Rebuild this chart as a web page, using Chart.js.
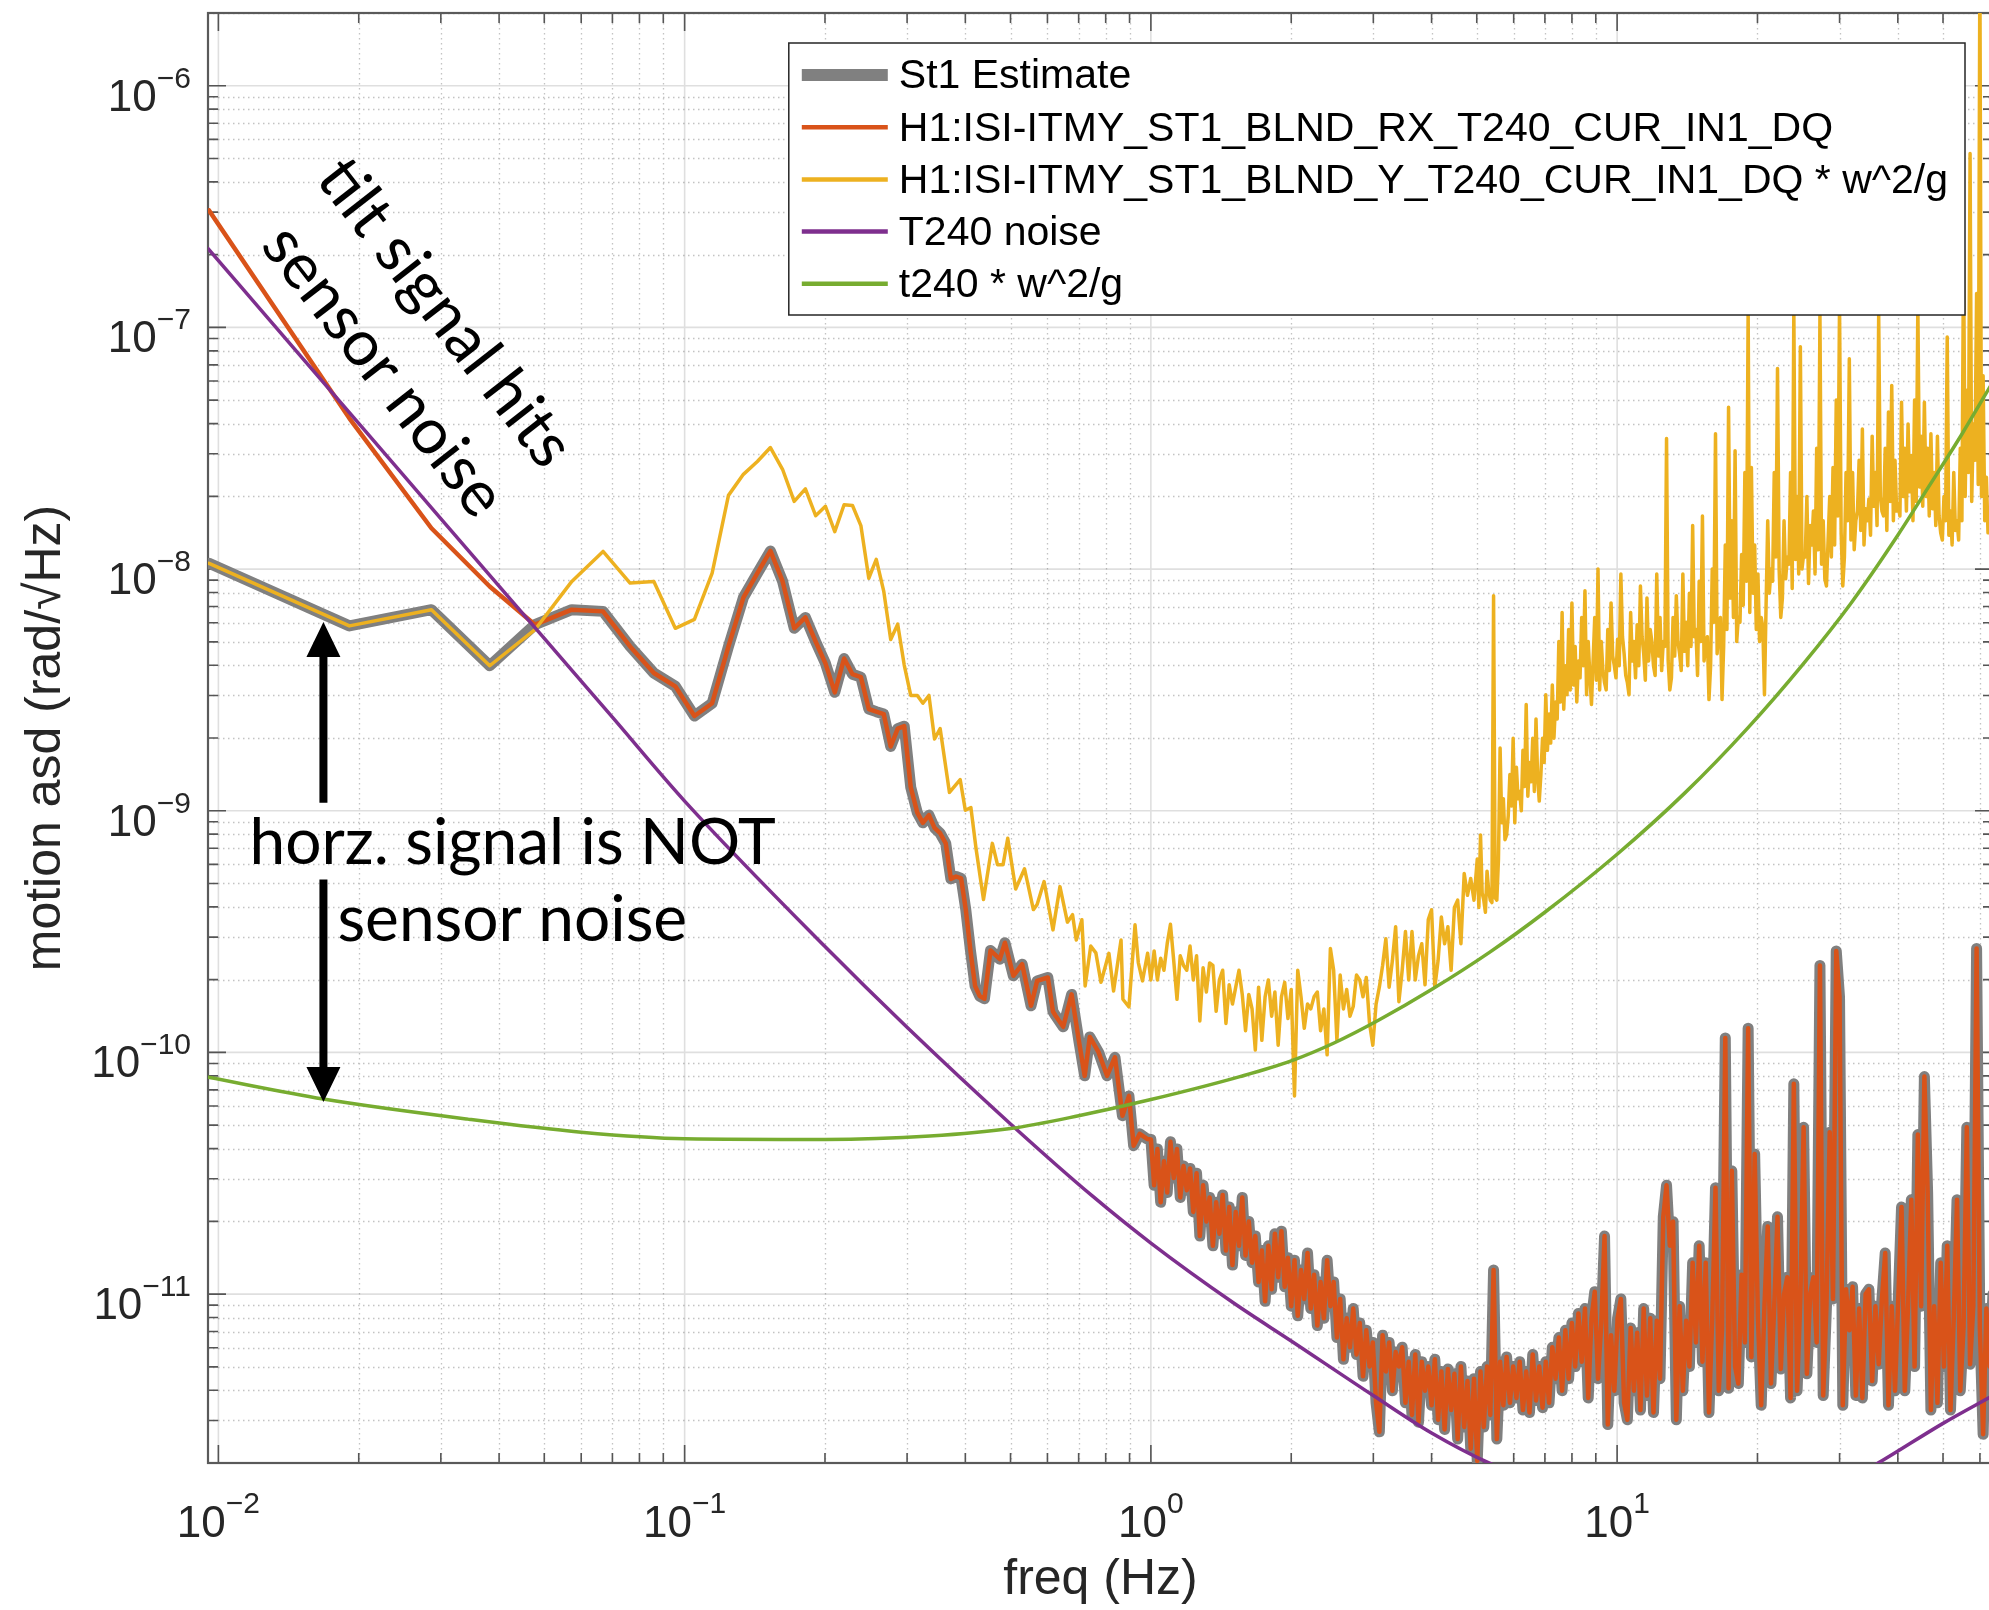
<!DOCTYPE html>
<html>
<head>
<meta charset="utf-8">
<title>St1 tilt estimate</title>
<script src="https://cdn.jsdelivr.net/npm/chart.js@4.4.1/dist/chart.umd.min.js"></script>
<style>
  html, body { margin: 0; padding: 0; background: #fff; }
  #wrap { width: 1989px; height: 1610px; overflow: hidden; }
  canvas { display: block; }
</style>
</head>
<body>
<div id="wrap"><canvas id="asd" width="2000" height="1610"></canvas></div>
<script>
// All readings are stored as log10 values (decades).

// H1:ISI-ITMY_ST1_BLND_RX_T240_CUR_IN1_DQ, below 1 Hz
const rxFreqExp = [
  -2.020, -1.719, -1.543, -1.418, -1.321, -1.242, -1.175, -1.117, -1.066, -1.020,
  -0.979, -0.941, -0.906, -0.874, -0.844, -0.816, -0.790, -0.765, -0.741, -0.719,
  -0.698, -0.678, -0.658, -0.640, -0.622, -0.605, -0.589, -0.573, -0.558, -0.543,
  -0.529, -0.515, -0.501, -0.489, -0.476, -0.464, -0.452, -0.440, -0.429, -0.418,
  -0.407, -0.397, -0.387, -0.377, -0.367, -0.357,
  -0.344, -0.324, -0.313, -0.295, -0.276, -0.257, -0.244, -0.221, -0.210, -0.204,
  -0.188, -0.170, -0.154, -0.142, -0.131, -0.112, -0.094, -0.077, -0.061, -0.047,
  -0.037, -0.024, -0.008
];
const rxAsdExp = [
  -6.516, -7.376, -7.831, -8.072, -8.230, -8.168, -8.175, -8.320, -8.430, -8.485,
  -8.608, -8.555, -8.320, -8.118, -8.017, -7.925, -8.050, -8.245, -8.200, -8.300,
  -8.390, -8.510, -8.370, -8.435, -8.447, -8.579, -8.590, -8.600, -8.734, -8.660,
  -8.650, -8.903, -9.008, -9.050, -9.018, -9.071, -9.093, -9.135, -9.282, -9.272,
  -9.280, -9.409, -9.578, -9.725, -9.767, -9.778,
  -9.578, -9.614, -9.546, -9.683, -9.635, -9.807, -9.704, -9.690, -9.831, -9.849,
  -9.894, -9.760, -9.957, -10.097, -9.936, -10.000, -10.097, -10.020, -10.262, -10.180,
  -10.386, -10.337, -10.358
];

// H1:ISI-ITMY_ST1_BLND_Y_T240_CUR_IN1_DQ * w^2/g, below 1 Hz
const yFreqExp = [
  -2.020, -1.719, -1.543, -1.418, -1.321, -1.242, -1.175, -1.117, -1.066, -1.020,
  -0.979, -0.941, -0.906, -0.874, -0.844, -0.816, -0.790, -0.765, -0.741, -0.719,
  -0.698, -0.678, -0.658, -0.640, -0.622, -0.605, -0.589, -0.573, -0.558, -0.543,
  -0.529, -0.515, -0.501, -0.489, -0.476, -0.464, -0.452,
  -0.432, -0.409, -0.398, -0.386, -0.375, -0.359, -0.340, -0.329, -0.317, -0.307,
  -0.290, -0.271, -0.252, -0.244, -0.229, -0.210, -0.195, -0.179, -0.168, -0.160,
  -0.148, -0.141, -0.129, -0.118, -0.107, -0.090, -0.080, -0.064, -0.060, -0.047,
  -0.034, -0.027, -0.018, -0.007
];
const yAsdExp = [
  -7.976, -8.235, -8.168, -8.400, -8.251, -8.051, -7.927, -8.058, -8.051, -8.245,
  -8.208, -8.017, -7.695, -7.608, -7.555, -7.497, -7.587, -7.720, -7.668, -7.779,
  -7.740, -7.845, -7.734, -7.737, -7.820, -8.038, -7.960, -8.091, -8.291, -8.228,
  -8.397, -8.523, -8.523, -8.555, -8.523, -8.703, -8.660,
  -8.924, -8.871, -8.998, -8.987, -9.156, -9.367, -9.135, -9.223, -9.223, -9.114,
  -9.324, -9.240, -9.409, -9.388, -9.293, -9.493, -9.314, -9.461, -9.430, -9.535,
  -9.451, -9.725, -9.560, -9.588, -9.710, -9.590, -9.746, -9.535, -9.780, -9.812,
  -9.472, -9.628, -9.704, -9.590
];

// 1 Hz and up: frequency grid shared by RX (whole grid) and Y (up to 5 Hz)
const hfFreqExp = [
  0.000, 0.007, 0.014, 0.021, 0.028, 0.035, 0.042, 0.049, 0.056, 0.063,
  0.070, 0.077, 0.084, 0.091, 0.098, 0.105, 0.112, 0.119, 0.126, 0.133,
  0.140, 0.147, 0.154, 0.161, 0.168, 0.175, 0.182, 0.189, 0.196, 0.203,
  0.210, 0.217, 0.224, 0.231, 0.238, 0.245, 0.252, 0.259, 0.266, 0.273,
  0.280, 0.287, 0.294, 0.301, 0.308, 0.315, 0.322, 0.329, 0.336, 0.343,
  0.350, 0.357, 0.364, 0.371, 0.378, 0.385, 0.392, 0.399, 0.406, 0.413,
  0.420, 0.427, 0.434, 0.441, 0.448, 0.455, 0.462, 0.469, 0.476, 0.483,
  0.490, 0.497, 0.504, 0.511, 0.518, 0.525, 0.532, 0.539, 0.546, 0.553,
  0.560, 0.567, 0.574, 0.581, 0.588, 0.595, 0.602, 0.609, 0.616, 0.623,
  0.630, 0.637, 0.644, 0.651, 0.658, 0.665, 0.672, 0.679, 0.686, 0.693,
  0.700, 0.707, 0.714, 0.721, 0.728, 0.735, 0.742, 0.749, 0.756, 0.763,
  0.770, 0.777, 0.784, 0.791, 0.798, 0.805, 0.812, 0.819, 0.826, 0.833,
  0.840, 0.847, 0.854, 0.861, 0.868, 0.875, 0.882, 0.889, 0.896, 0.903,
  0.910, 0.917, 0.924, 0.931, 0.938, 0.945, 0.952, 0.959, 0.966, 0.973,
  0.980, 0.987, 0.994, 1.001, 1.008, 1.015, 1.022, 1.029, 1.036, 1.043,
  1.050, 1.057, 1.064, 1.071, 1.078, 1.085, 1.092, 1.099, 1.106, 1.113,
  1.120, 1.127, 1.134, 1.141, 1.148, 1.155, 1.162, 1.169, 1.176, 1.183,
  1.190, 1.197, 1.204, 1.211, 1.218, 1.225, 1.232, 1.239, 1.246, 1.253,
  1.260, 1.267, 1.274, 1.281, 1.288, 1.295, 1.302, 1.309, 1.316, 1.323,
  1.330, 1.337, 1.344, 1.351, 1.358, 1.365, 1.372, 1.379, 1.386, 1.393,
  1.400, 1.407, 1.414, 1.421, 1.428, 1.435, 1.442, 1.449, 1.456, 1.463,
  1.470, 1.477, 1.484, 1.491, 1.498, 1.505, 1.512, 1.519, 1.526, 1.533,
  1.540, 1.547, 1.554, 1.561, 1.568, 1.575, 1.582, 1.589, 1.596, 1.603,
  1.610, 1.617, 1.624, 1.631, 1.638, 1.645, 1.652, 1.659, 1.666, 1.673,
  1.680, 1.687, 1.694, 1.701, 1.708, 1.715, 1.722, 1.729, 1.736, 1.743,
  1.750, 1.757, 1.764, 1.771, 1.778, 1.785, 1.792, 1.799, 1.806, 1.813
];
const rxHfAsdExp = [
  -10.36, -10.55, -10.40, -10.62, -10.45, -10.58, -10.37, -10.52, -10.40, -10.60,
  -10.47, -10.57, -10.48, -10.66, -10.50, -10.76, -10.55, -10.70, -10.60, -10.80,
  -10.62, -10.75, -10.59, -10.82, -10.64, -10.88, -10.66, -10.80, -10.60, -10.84,
  -10.70, -10.87, -10.76, -10.95, -10.82, -11.03, -10.80, -10.98, -10.75, -10.93,
  -10.74, -10.97, -10.85, -11.05, -10.86, -11.09, -10.90, -11.02, -10.83, -11.06,
  -10.92, -11.13, -10.95, -11.10, -10.86, -11.05, -10.95, -11.18, -11.02, -11.27,
  -11.10, -11.22, -11.06, -11.25, -11.12, -11.34, -11.15, -11.30, -11.20, -11.45,
  -11.57, -11.17, -11.32, -11.20, -11.40, -11.24, -11.30, -11.22, -11.45, -11.28,
  -11.50, -11.25, -11.53, -11.28, -11.40, -11.30, -11.46, -11.27, -11.52, -11.32,
  -11.56, -11.31, -11.48, -11.33, -11.60, -11.30, -11.55, -11.36, -11.64, -11.35,
  -11.69, -11.32, -11.55, -11.30, -11.50, -10.90, -11.60, -11.28, -11.46, -11.26,
  -11.45, -11.30, -11.43, -11.28, -11.48, -11.32, -11.49, -11.25, -11.44, -11.30,
  -11.47, -11.28, -11.45, -11.22, -11.35, -11.18, -11.40, -11.15, -11.35, -11.12,
  -11.30, -11.08, -11.28, -11.06, -11.43, -11.10, -10.99, -11.35, -11.12, -10.76,
  -11.54, -11.17, -11.40, -11.10, -11.02, -11.45, -11.52, -11.14, -11.40, -11.16,
  -11.48, -11.06, -11.42, -11.10, -11.49, -11.11, -11.35, -10.68, -10.55, -10.80,
  -10.70, -11.52, -11.05, -11.40, -11.11, -11.30, -10.87, -11.20, -10.80, -11.28,
  -10.87, -11.49, -11.10, -10.56, -11.40, -11.15, -9.94, -11.39, -10.49, -11.30,
  -11.37, -10.92, -11.20, -9.90, -11.26, -10.42, -11.10, -11.46, -11.05, -10.72,
  -11.37, -11.05, -10.68, -11.31, -11.00, -10.93, -11.43, -10.13, -11.40, -11.02,
  -10.31, -11.33, -11.00, -10.93, -11.20, -9.64, -11.42, -11.05, -10.33, -11.02,
  -9.58, -9.77, -11.46, -10.98, -11.15, -10.97, -11.42, -11.06, -11.43, -11.00,
  -10.98, -11.36, -11.05, -11.29, -11.02, -10.83, -11.46, -11.05, -11.40, -11.02,
  -10.64, -11.40, -11.05, -10.61, -11.30, -10.34, -11.05, -10.10, -10.58, -11.48,
  -11.05, -11.45, -10.87, -11.30, -10.80, -11.48, -11.10, -10.61, -11.40, -11.14,
  -10.31, -11.29, -11.05, -9.57, -11.14, -11.58, -11.06, -11.30, -11.00, -11.20
];
// Y channel on the shared grid, 1 Hz to 5 Hz
const yHfAsdExp = [
  -9.70, -9.58, -9.70, -9.61, -9.66, -9.55, -9.47, -9.62, -9.78, -9.60,
  -9.64, -9.66, -9.56, -9.70, -9.60, -9.87, -9.65, -9.75, -9.63, -9.64,
  -9.83, -9.70, -9.66, -9.88, -9.72, -9.80, -9.73, -9.66, -9.76, -9.91,
  -9.76, -9.82, -9.99, -9.73, -9.95, -9.77, -9.70, -9.85, -9.75, -9.97,
  -9.77, -9.71, -9.86, -9.74, -10.18, -9.66, -9.77, -9.90, -9.80, -9.82,
  -9.77, -9.75, -9.91, -9.82, -10.01, -9.57, -9.66, -9.95, -9.68, -9.82,
  -9.74, -9.85, -9.81, -9.68, -9.70, -9.77, -9.69, -9.88, -9.97, -9.80,
  -9.73, -9.64, -9.53, -9.73, -9.62, -9.48, -9.79, -9.66, -9.50, -9.70,
  -9.50, -9.70, -9.60, -9.55, -9.72, -9.45, -9.41, -9.73, -9.62, -9.44,
  -9.55, -9.48, -9.66, -9.40, -9.37, -9.55, -9.26, -9.35, -9.28, -9.37,
  -9.20
];
// Y channel above 5 Hz, read on a finer grid (dense band)
const yFineFreqExp = [
  0.7035, 0.707, 0.7105, 0.714, 0.7175, 0.721, 0.7245, 0.728, 0.7315, 0.735,
  0.7385, 0.742, 0.7455, 0.749, 0.7525, 0.756, 0.7595, 0.763,
  0.7665, 0.770, 0.7735, 0.777, 0.7805, 0.784, 0.7875, 0.791, 0.7945, 0.798,
  0.8015, 0.805, 0.8085, 0.812, 0.8155, 0.819, 0.8225, 0.826, 0.8295, 0.833,
  0.8365, 0.840, 0.8435, 0.847, 0.8505, 0.854, 0.8575, 0.861, 0.8645, 0.868,
  0.8715, 0.875, 0.8785, 0.882, 0.8855, 0.889, 0.8925, 0.896, 0.8995, 0.903,
  0.9065, 0.910, 0.9135, 0.917, 0.9205, 0.924, 0.9275, 0.931, 0.9345, 0.938,
  0.9415, 0.945, 0.9485, 0.952, 0.9555, 0.959, 0.9625, 0.966, 0.9695, 0.973,
  0.9765, 0.980, 0.9835, 0.987, 0.9905, 0.994, 0.9975, 1.001, 1.0045, 1.008,
  1.0115, 1.015, 1.0185, 1.022, 1.0255, 1.029, 1.0325, 1.036, 1.0395, 1.043,
  1.0465, 1.050, 1.0535, 1.057, 1.0605, 1.064, 1.0675, 1.071, 1.0745, 1.078,
  1.0815, 1.085, 1.0885, 1.092, 1.0955, 1.099, 1.1025, 1.106, 1.1095, 1.113,
  1.1165, 1.120, 1.1235, 1.127, 1.1305, 1.134, 1.1375, 1.141, 1.1445, 1.148,
  1.1515, 1.155, 1.1585, 1.162, 1.1655, 1.169, 1.1725, 1.176, 1.1795, 1.183,
  1.1865, 1.190, 1.1935, 1.197, 1.2005, 1.204, 1.2075, 1.211, 1.2145, 1.218,
  1.2215, 1.225, 1.2285, 1.232, 1.2355, 1.239, 1.2425, 1.246, 1.2495, 1.253,
  1.2565, 1.260, 1.2635, 1.267, 1.2705, 1.274, 1.2775, 1.281, 1.2845, 1.288,
  1.2915, 1.295, 1.2985, 1.302, 1.3055, 1.309, 1.3125, 1.316, 1.3195, 1.323,
  1.3265, 1.330, 1.3335, 1.337, 1.3405, 1.344, 1.3475, 1.351, 1.3545, 1.358,
  1.3615, 1.365, 1.3685, 1.372, 1.3755, 1.379, 1.3825, 1.386, 1.3895, 1.393,
  1.3965, 1.400, 1.4035, 1.407, 1.4105, 1.414, 1.4175, 1.421, 1.4245, 1.428,
  1.4315, 1.435, 1.4385, 1.442, 1.4455, 1.449, 1.4525, 1.456, 1.4595, 1.463,
  1.4665, 1.470, 1.4735, 1.477, 1.4805, 1.484, 1.4875, 1.491, 1.4945, 1.498,
  1.5015, 1.505, 1.5085, 1.512, 1.5155, 1.519, 1.5225, 1.526, 1.5295, 1.533,
  1.5365, 1.540, 1.5435, 1.547, 1.5505, 1.554, 1.5575, 1.561, 1.5645, 1.568,
  1.5715, 1.575, 1.5785, 1.582, 1.5855, 1.589, 1.5925, 1.596, 1.5995, 1.603,
  1.6065, 1.610, 1.6135, 1.617, 1.6205, 1.624, 1.6275, 1.631, 1.6345, 1.638,
  1.6415, 1.645, 1.6485, 1.652, 1.6555, 1.659, 1.6625, 1.666, 1.6695, 1.673,
  1.6765, 1.680, 1.6835, 1.687, 1.6905, 1.694, 1.6975, 1.701, 1.7045, 1.708,
  1.7115, 1.715, 1.7185, 1.722, 1.7255, 1.729, 1.7325, 1.736, 1.7395, 1.743,
  1.7465, 1.750, 1.7535, 1.757, 1.7605, 1.764, 1.7675, 1.771, 1.7745, 1.778,
  1.7815, 1.785, 1.7885, 1.792, 1.7955, 1.799, 1.8025, 1.806, 1.8095, 1.813
];
const yFineAsdExp = [
  -9.40, -9.10, -9.34, -9.37, -9.42, -9.25, -9.33, -9.37, -9.38, -8.11,
  -9.36, -9.37, -9.20, -8.74, -9.05, -8.95, -9.12, -9.10,
  -9.02, -8.85, -8.98, -8.70, -9.05, -8.82, -8.95, -8.92, -9.00, -8.75,
  -8.90, -8.56, -8.94, -8.80, -8.88, -8.70, -8.92, -8.62, -8.86, -8.96,
  -8.85, -8.70, -8.80, -8.52, -8.75, -8.60, -8.72, -8.48, -8.70, -8.55,
  -8.62, -8.30, -8.55, -8.18, -8.58, -8.40, -8.52, -8.25, -8.50, -8.14,
  -8.48, -8.32, -8.55, -8.38, -8.45, -8.20, -8.40, -8.09, -8.52, -8.30,
  -8.44, -8.56, -8.38, -8.20, -8.46, -8.00, -8.50, -8.30, -8.42, -8.47,
  -8.50, -8.25, -8.42, -8.14, -8.36, -8.40, -8.45, -8.29, -8.40, -8.02,
  -8.28, -8.35, -8.44, -8.47, -8.52, -8.18, -8.38, -8.30, -8.45, -8.23,
  -8.40, -8.07, -8.28, -8.35, -8.46, -8.12, -8.38, -8.25, -8.30, -8.40,
  -8.44, -8.02, -8.36, -8.20, -8.42, -8.30, -8.32, -7.46, -8.38, -8.50,
  -8.45, -8.20, -8.36, -8.11, -8.30, -8.35, -8.42, -8.02, -8.34, -8.22,
  -8.40, -8.10, -8.32, -7.82, -8.28, -8.25, -8.44, -8.05, -8.30, -7.78,
  -8.38, -8.30, -8.28, -8.54, -8.40, -8.00, -8.22, -7.44, -8.35, -8.25,
  -8.20, -8.54, -8.32, -7.90, -8.25, -7.33, -8.12, -7.80, -8.20, -7.51,
  -8.30, -8.20, -8.22, -7.94, -8.15, -7.60, -8.05, -6.93, -8.18, -7.58,
  -8.10, -7.90, -8.25, -8.02, -8.30, -8.20, -8.24, -8.52, -8.15, -7.80,
  -8.10, -8.00, -8.05, -7.60, -7.95, -7.17, -8.00, -8.20, -8.12, -7.80,
  -8.04, -7.95, -7.98, -7.60, -8.08, -6.93, -7.96, -7.70, -8.02, -7.08,
  -8.00, -7.94, -7.95, -7.70, -8.06, -7.82, -7.90, -7.76, -8.02, -7.50,
  -7.92, -6.95, -7.98, -7.80, -8.04, -8.07, -7.88, -7.70, -7.95, -7.58,
  -7.90, -7.30, -7.78, -6.91, -7.85, -8.07, -7.95, -7.60, -7.80, -7.13,
  -7.88, -7.60, -7.92, -7.80, -7.76, -7.55, -7.84, -7.42, -7.90, -7.75,
  -7.80, -7.71, -7.86, -7.45, -7.74, -7.60, -7.82, -6.95, -7.70, -7.76,
  -7.78, -7.50, -7.84, -7.35, -7.72, -7.24, -7.80, -7.55, -7.76, -7.73,
  -7.78, -7.31, -7.70, -7.50, -7.76, -7.40, -7.68, -7.53, -7.80, -7.30,
  -7.72, -6.91, -7.66, -7.45, -7.74, -7.31, -7.70, -7.50, -7.78, -7.44,
  -7.75, -7.60, -7.82, -7.45, -7.78, -7.85, -7.88, -7.70, -7.80, -7.04,
  -7.86, -7.76, -7.90, -7.60, -7.84, -7.80, -7.88, -7.50, -7.80, -6.68,
  -7.70, -7.26, -7.60, -6.28, -7.72, -7.40, -7.55, -6.86, -7.65, -5.50,
  -7.70, -7.20, -7.80, -7.62, -7.85, -7.75, -7.92, -7.87, -7.95, -7.90
];

// T240 noise
const t240FreqExp = [
  -2.022, -1.824, -1.699, -1.523, -1.301, -1.155, -1.000, -0.699, -0.523, -0.301,
  -0.125, 0.000, 0.176, 0.301, 0.477, 0.602, 0.732, 0.903, 1.079, 1.301,
  1.477, 1.568, 1.699, 1.806
];
const t240AsdExp = [
  -6.674, -7.118, -7.397, -7.791, -8.287, -8.613, -8.960, -9.562, -9.896, -10.296,
  -10.595, -10.789, -11.035, -11.194, -11.420, -11.575, -11.705, -11.825, -11.890, -11.905,
  -11.790, -11.690, -11.535, -11.420
];

// t240 * w^2/g
const tiltFreqExp = [
  -2.022, -1.775, -1.466, -1.222, -1.000, -0.699, -0.474, -0.301, -0.155, 0.000,
  0.191, 0.301, 0.394, 0.490, 0.602, 0.727, 0.845, 1.000, 1.146, 1.279,
  1.398, 1.502, 1.602, 1.668, 1.740, 1.806
];
const tiltAsdExp = [
  -10.103, -10.193, -10.276, -10.330, -10.357, -10.360, -10.346, -10.315, -10.262, -10.195,
  -10.100, -10.035, -9.960, -9.865, -9.740, -9.585, -9.420, -9.180, -8.925, -8.660,
  -8.395, -8.140, -7.860, -7.660, -7.440, -7.225
];

const seriesLabels = [
  'St1 Estimate',
  'H1:ISI-ITMY_ST1_BLND_RX_T240_CUR_IN1_DQ',
  'H1:ISI-ITMY_ST1_BLND_Y_T240_CUR_IN1_DQ * w^2/g',
  'T240 noise',
  't240 * w^2/g'
];
const xDecades = [-2, -1, 0, 1];
const yDecades = [-11, -10, -9, -8, -7, -6];

const X_MIN = 0.0095, X_MAX = 64;
const Y_MIN = 2e-12, Y_MAX = 2e-6;

const AXIS_FONT = '"Liberation Sans", Arial, sans-serif';
const NOTE_FONT = 'Lato, "Open Sans", sans-serif';
const TEXT_COLOR = '#262626';

// full channel tables
const rxAllFreq = rxFreqExp.concat(hfFreqExp);
const rxAllAsd = rxAsdExp.concat(rxHfAsdExp);
const yAllFreq = yFreqExp.concat(hfFreqExp.slice(0, yHfAsdExp.length), yFineFreqExp);
const yAllAsd = yAsdExp.concat(yHfAsdExp, yFineAsdExp);
// St1 estimate follows the horizontal (Y) signal in the first bins, RX above that
const estAllAsd = yAsdExp.slice(0, 4).concat(rxAllAsd.slice(4));

function toPoints(freqExp, asdExp) {
  return freqExp.map((fe, i) => ({ x: Math.pow(10, fe), y: Math.pow(10, asdExp[i]) }));
}

function minorValues(min, max) {
  const out = [];
  for (let e = Math.floor(Math.log10(min)); e <= Math.ceil(Math.log10(max)); e++) {
    for (let m = 2; m < 10; m++) {
      const v = m * Math.pow(10, e);
      if (v >= min && v <= max) out.push(v);
    }
  }
  return out;
}

// Text annotations, anchored in data coordinates
const tiltNotes = [
  { text: 'tilt signal hits', f: 0.0306, v: 1.15e-7 },
  { text: 'sensor noise', f: 0.0226, v: 6.6e-8 }
];
const horzNotes = [
  { text: 'horz. signal is NOT', f: 0.01166, v: 6.0e-10 },
  { text: 'sensor noise', f: 0.0180, v: 2.88e-10 }
];
const arrowNote = { f: 0.0168, top: 6.04e-9, gapTop: 1.08e-9, gapBottom: 5.19e-10, bottom: 6.24e-11 };

const matlabAxes = {
  id: 'matlabAxes',
  beforeDatasetsDraw(chart) {
    const { ctx, chartArea: a, scales: { x, y } } = chart;
    const xMinor = minorValues(X_MIN, X_MAX);
    const yMinor = minorValues(Y_MIN, Y_MAX);
    const xMajor = xDecades.map(e => Math.pow(10, e));
    const yMajor = yDecades.map(e => Math.pow(10, e));

    ctx.save();
    ctx.beginPath();
    ctx.rect(a.left, a.top, a.right - a.left, a.bottom - a.top);
    ctx.clip();

    // minor grid, dotted
    ctx.strokeStyle = 'rgba(38,38,38,0.28)';
    ctx.lineWidth = 1.3;
    ctx.setLineDash([1.5, 3.5]);
    ctx.beginPath();
    xMinor.forEach(v => {
      const px = Math.round(x.getPixelForValue(v)) + 0.5;
      ctx.moveTo(px, a.top); ctx.lineTo(px, a.bottom);
    });
    yMinor.forEach(v => {
      const py = Math.round(y.getPixelForValue(v)) + 0.5;
      ctx.moveTo(a.left, py); ctx.lineTo(a.right, py);
    });
    ctx.stroke();

    // major grid, solid
    ctx.setLineDash([]);
    ctx.strokeStyle = 'rgba(38,38,38,0.15)';
    ctx.lineWidth = 1.6;
    ctx.beginPath();
    xMajor.forEach(v => {
      const px = x.getPixelForValue(v);
      ctx.moveTo(px, a.top); ctx.lineTo(px, a.bottom);
    });
    yMajor.forEach(v => {
      const py = y.getPixelForValue(v);
      ctx.moveTo(a.left, py); ctx.lineTo(a.right, py);
    });
    ctx.stroke();
    ctx.restore();

    // box and inward ticks on all four sides
    ctx.save();
    ctx.strokeStyle = '#555';
    ctx.lineWidth = 1.6;
    ctx.beginPath();
    const xtick = (vals, len) => {
      vals.forEach(v => {
        const px = x.getPixelForValue(v);
        ctx.moveTo(px, a.bottom); ctx.lineTo(px, a.bottom - len);
        ctx.moveTo(px, a.top); ctx.lineTo(px, a.top + len);
      });
    };
    const ytick = (vals, len) => {
      vals.forEach(v => {
        const py = y.getPixelForValue(v);
        ctx.moveTo(a.left, py); ctx.lineTo(a.left + len, py);
        ctx.moveTo(a.right, py); ctx.lineTo(a.right - len, py);
      });
    };
    xtick(xMinor, 10); xtick(xMajor, 18);
    ytick(yMinor, 10); ytick(yMajor, 18);
    ctx.stroke();
    ctx.lineWidth = 2.2;
    ctx.strokeStyle = '#5a5a5a';
    ctx.strokeRect(a.left, a.top, a.right - a.left, a.bottom - a.top);
    ctx.restore();

    // tick labels: 10 with a superscript exponent
    ctx.save();
    ctx.fillStyle = TEXT_COLOR;
    ctx.textBaseline = 'alphabetic';
    ctx.textAlign = 'left';
    const baseFont = '44px ' + AXIS_FONT, expFont = '30px ' + AXIS_FONT;
    const expLabel = e => (e < 0 ? '\u2212' : '') + Math.abs(e);
    yDecades.forEach(e => {
      const py = y.getPixelForValue(Math.pow(10, e));
      const expText = expLabel(e);
      ctx.font = expFont; const we = ctx.measureText(expText).width;
      ctx.font = baseFont; const wb = ctx.measureText('10').width;
      const right = a.left - 17;
      ctx.fillText('10', right - we - wb, py + 25);
      ctx.font = expFont;
      ctx.fillText(expText, right - we, py + 2);
    });
    xDecades.forEach(e => {
      const px = x.getPixelForValue(Math.pow(10, e));
      const expText = expLabel(e);
      ctx.font = expFont; const we = ctx.measureText(expText).width;
      ctx.font = baseFont; const wb = ctx.measureText('10').width;
      const start = px - (wb + we) / 2;
      ctx.fillText('10', start, a.bottom + 74);
      ctx.font = expFont;
      ctx.fillText(expText, start + wb, a.bottom + 50);
    });
    ctx.restore();
  },

  afterDraw(chart) {
    const { ctx, chartArea: a, scales: { x, y } } = chart;

    // annotations
    ctx.save();
    ctx.fillStyle = '#000';
    ctx.strokeStyle = '#000';
    ctx.font = '64px ' + NOTE_FONT;
    tiltNotes.forEach(n => {
      ctx.save();
      ctx.translate(x.getPixelForValue(n.f), y.getPixelForValue(n.v));
      ctx.rotate(52 * Math.PI / 180);
      ctx.textAlign = 'center';
      ctx.textBaseline = 'middle';
      ctx.fillText(n.text, 0, 0);
      ctx.restore();
    });
    ctx.textAlign = 'left';
    ctx.textBaseline = 'alphabetic';
    horzNotes.forEach(n => {
      ctx.fillText(n.text, x.getPixelForValue(n.f), y.getPixelForValue(n.v));
    });

    const ax = x.getPixelForValue(arrowNote.f);
    const tipTop = y.getPixelForValue(arrowNote.top);
    const tipBottom = y.getPixelForValue(arrowNote.bottom);
    const head = 35, half = 17;
    ctx.lineWidth = 8;
    ctx.beginPath();
    ctx.moveTo(ax, tipTop + head - 2); ctx.lineTo(ax, y.getPixelForValue(arrowNote.gapTop));
    ctx.moveTo(ax, y.getPixelForValue(arrowNote.gapBottom)); ctx.lineTo(ax, tipBottom - head + 2);
    ctx.stroke();
    ctx.beginPath();
    ctx.moveTo(ax, tipTop); ctx.lineTo(ax - half, tipTop + head); ctx.lineTo(ax + half, tipTop + head);
    ctx.closePath();
    ctx.moveTo(ax, tipBottom); ctx.lineTo(ax - half, tipBottom - head); ctx.lineTo(ax + half, tipBottom - head);
    ctx.closePath();
    ctx.fill();
    ctx.restore();

    // legend box, inside the axes at top right
    ctx.save();
    ctx.font = '41px ' + AXIS_FONT;
    const sets = chart.data.datasets;
    const maxW = Math.max(...sets.map(d => ctx.measureText(d.label).width));
    const right = a.right - 28, top = a.top + 30;
    const width = 110 + maxW + 17, height = 272;
    const left = right - width;
    ctx.fillStyle = '#fff';
    ctx.fillRect(left, top, width, height);
    ctx.strokeStyle = '#262626';
    ctx.lineWidth = 1.5;
    ctx.strokeRect(left, top, width, height);
    sets.forEach((d, i) => {
      const cy = top + 32 + i * 52.2;
      ctx.strokeStyle = d.borderColor;
      ctx.lineWidth = d.legendWidth;
      ctx.beginPath();
      ctx.moveTo(left + 13, cy); ctx.lineTo(left + 99, cy);
      ctx.stroke();
      ctx.fillStyle = '#000';
      ctx.textBaseline = 'middle';
      ctx.textAlign = 'left';
      ctx.fillText(d.label, left + 110, cy + 2);
    });
    ctx.restore();
  }
};

const lineDefaults = {
  pointRadius: 0,
  pointHoverRadius: 0,
  fill: false,
  tension: 0,
  borderJoinStyle: 'round',
  borderCapStyle: 'round'
};

new Chart(document.getElementById('asd'), {
  type: 'line',
  data: {
    datasets: [
      Object.assign({}, lineDefaults, {
        label: seriesLabels[0], data: toPoints(rxAllFreq, estAllAsd),
        borderColor: '#808080', borderWidth: 11, legendWidth: 12, order: 5
      }),
      Object.assign({}, lineDefaults, {
        label: seriesLabels[1], data: toPoints(rxAllFreq, rxAllAsd),
        borderColor: '#D95319', borderWidth: 4.5, legendWidth: 4.5, order: 4
      }),
      Object.assign({}, lineDefaults, {
        label: seriesLabels[2], data: toPoints(yAllFreq, yAllAsd),
        borderColor: '#EDB120', borderWidth: 3.5, legendWidth: 4.5, order: 3
      }),
      Object.assign({}, lineDefaults, {
        label: seriesLabels[3], data: toPoints(t240FreqExp, t240AsdExp),
        borderColor: '#7E2F8E', borderWidth: 3.5, legendWidth: 4.5, order: 2,
        cubicInterpolationMode: 'monotone'
      }),
      Object.assign({}, lineDefaults, {
        label: seriesLabels[4], data: toPoints(tiltFreqExp, tiltAsdExp),
        borderColor: '#77AC30', borderWidth: 3.5, legendWidth: 4.5, order: 1,
        cubicInterpolationMode: 'monotone'
      })
    ]
  },
  options: {
    responsive: false,
    devicePixelRatio: 1,
    animation: false,
    parsing: false,
    normalized: true,
    events: [],
    layout: { padding: { left: 0, right: 7, top: 13, bottom: 0 } },
    plugins: { legend: { display: false }, tooltip: { enabled: false } },
    scales: {
      x: {
        type: 'logarithmic', min: X_MIN, max: X_MAX, bounds: 'data',
        ticks: { display: false }, grid: { display: false }, border: { display: false },
        title: {
          display: true, text: 'freq (Hz)', color: TEXT_COLOR,
          font: { family: AXIS_FONT, size: 50 }, padding: { top: 0, bottom: 0 }
        },
        afterFit(scale) { scale.height = 147; }
      },
      y: {
        type: 'logarithmic', min: Y_MIN, max: Y_MAX, bounds: 'data',
        ticks: { display: false }, grid: { display: false }, border: { display: false },
        title: {
          display: true, text: 'motion asd (rad/\u221AHz)', color: TEXT_COLOR,
          font: { family: AXIS_FONT, size: 50 }, padding: { top: 16, bottom: 0 }
        },
        afterFit(scale) { scale.width = 208; }
      }
    }
  },
  plugins: [matlabAxes]
});
</script>
</body>
</html>
